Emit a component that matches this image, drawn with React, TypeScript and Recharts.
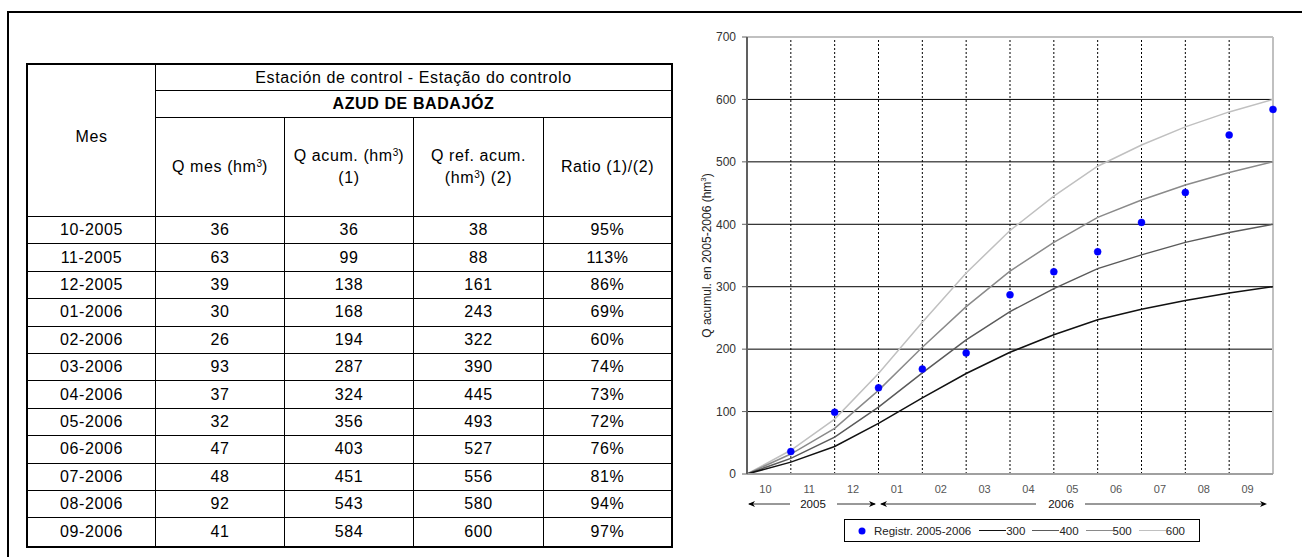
import React from 'react';
import { ComposedChart, Line, XAxis, YAxis, CartesianGrid, ReferenceLine, Legend } from 'recharts';

// ---- Table data ----
const months = ['10-2005', '11-2005', '12-2005', '01-2006', '02-2006', '03-2006', '04-2006', '05-2006', '06-2006', '07-2006', '08-2006', '09-2006'];
const qMes = [36, 63, 39, 30, 26, 93, 37, 32, 47, 48, 92, 41];
const qAcum = [36, 99, 138, 168, 194, 287, 324, 356, 403, 451, 543, 584];
const qRef = [38, 88, 161, 243, 322, 390, 445, 493, 527, 556, 580, 600];
const ratio = ['95%', '113%', '86%', '69%', '60%', '74%', '73%', '72%', '76%', '81%', '94%', '97%'];

// ---- Chart data ----
const monthTicks = ['10', '11', '12', '01', '02', '03', '04', '05', '06', '07', '08', '09'];
const monthIdx = [0, 1, 2, 3, 4, 5, 6, 7, 8, 9, 10, 11, 12];
const ref300 = [0, 19, 44, 81, 122, 161, 195, 223, 247, 264, 278, 290, 300];
const ref400 = [0, 25, 59, 107, 162, 215, 260, 297, 329, 351, 371, 387, 400];
const ref500 = [0, 32, 73, 134, 203, 268, 325, 371, 411, 439, 463, 483, 500];
const ref600 = [0, 38, 88, 161, 243, 322, 390, 445, 493, 527, 556, 580, 600];
const yTicks = [0, 100, 200, 300, 400, 500, 600, 700];

const chartData = monthIdx.map((m, i) => ({
  m,
  r300: ref300[i],
  r400: ref400[i],
  r500: ref500[i],
  r600: ref600[i],
  reg: i === 0 ? null : qAcum[i - 1],
}));

const tickPos = monthTicks.map((_, i) => i + 0.5);
const boundaries = monthIdx.slice(1, 12);

const FONT = "'Liberation Sans', Arial, Helvetica, sans-serif";

const lineColors = { r300: '#111111', r400: '#5a5a5a', r500: '#8a8a8a', r600: '#c0c0c0' };

function LegendBox() {
  const items: [string, string][] = [
    ['300', lineColors.r300],
    ['400', lineColors.r400],
    ['500', lineColors.r500],
    ['600', lineColors.r600],
  ];
  return (
    <div
      style={{
        boxSizing: 'border-box',
        border: '1px solid #000',
        height: 23,
        width: 356,
        display: 'flex',
        alignItems: 'center',
        fontFamily: FONT,
        fontSize: 11.5,
        color: '#222',
        background: '#fff',
        whiteSpace: 'nowrap',
      }}
    >
      <svg width={8} height={8} style={{ marginLeft: 13, marginRight: 8 }}>
        <circle cx={4} cy={4} r={3.5} fill="#0000ff" />
      </svg>
      <span>Registr. 2005-2006</span>
      {items.map(([label, color], i) => (
        <span key={label} style={{ display: 'flex', alignItems: 'center', marginLeft: i === 0 ? 8 : 7 }}>
          <span style={{ display: 'inline-block', width: 27, height: 0, borderTop: `1.5px solid ${color}` }} />
          <span>{label}</span>
        </span>
      ))}
    </div>
  );
}

function YLabel(props: any) {
  const vb = props.viewBox || { x: 0, y: 0, width: 0, height: 0 };
  const cx = vb.x + 17;
  const cy = vb.y + vb.height / 2;
  return (
    <text
      x={cx}
      y={cy}
      transform={`rotate(-90, ${cx}, ${cy})`}
      textAnchor="middle"
      dominantBaseline="central"
      fontFamily={FONT}
      fontSize={12}
      fill="#222"
    >
      Q acumul. en 2005-2006 (hm
      <tspan dy={-4} fontSize={8}>3</tspan>
      <tspan dy={4}>)</tspan>
    </text>
  );
}

function YearArrows() {
  const y = 504;
  const col = '#333';
  const head = (x: number, dir: number) => (
    <path d={`M${x},${y} L${x - dir * 7},${y - 3} L${x - dir * 5},${y} L${x - dir * 7},${y + 3} Z`} fill="#000" />
  );
  return (
    <svg
      width={1302}
      height={557}
      style={{ position: 'absolute', left: 0, top: 0, pointerEvents: 'none' }}
    >
      <line x1={749} y1={y} x2={790} y2={y} stroke={col} strokeWidth={1} />
      {head(748, -1)}
      <text x={813} y={y} textAnchor="middle" dominantBaseline="central" fontFamily={FONT} fontSize={11.5} fill="#111">2005</text>
      <line x1={837} y1={y} x2={875} y2={y} stroke={col} strokeWidth={1} />
      {head(876, 1)}
      <line x1={881} y1={y} x2={1036} y2={y} stroke={col} strokeWidth={1} />
      {head(880, -1)}
      <text x={1061} y={y} textAnchor="middle" dominantBaseline="central" fontFamily={FONT} fontSize={11.5} fill="#111">2006</text>
      <line x1={1085} y1={y} x2={1265} y2={y} stroke={col} strokeWidth={1} />
      {head(1267, 1)}
    </svg>
  );
}

function DataTable() {
  const colW = [128, 129, 129, 130, 127];
  const nRows = months.length;
  const cell = (
    col: number,
    row: number,
    content: React.ReactNode,
    opts: { colSpan?: number; rowSpan?: number; bold?: boolean } = {}
  ) => {
    const colSpan = opts.colSpan || 1;
    const rowSpan = opts.rowSpan || 1;
    const lastCol = col + colSpan - 1 === 5;
    const lastRow = row + rowSpan - 1 === 3 + nRows;
    return (
      <div
        key={`${col}-${row}`}
        style={{
          gridColumn: `${col} / span ${colSpan}`,
          gridRow: `${row} / span ${rowSpan}`,
          boxSizing: 'border-box',
          borderRight: lastCol ? 'none' : '1px solid #000',
          borderBottom: lastRow ? 'none' : '1px solid #000',
          display: 'flex',
          alignItems: 'center',
          justifyContent: 'center',
          textAlign: 'center',
          fontWeight: opts.bold ? 'bold' : 'normal',
          lineHeight: '22px',
        }}
      >
        {content}
      </div>
    );
  };
  const sup = <sup style={{ fontSize: 10, lineHeight: 0, verticalAlign: 5, letterSpacing: 0 }}>3</sup>;
  const cells: React.ReactNode[] = [];
  cells.push(cell(1, 1, <span style={{ marginTop: -8 }}>Mes</span>, { rowSpan: 3 }));
  cells.push(cell(2, 1, 'Estación de control - Estação do controlo', { colSpan: 4 }));
  cells.push(cell(2, 2, 'AZUD DE BADAJÓZ', { colSpan: 4, bold: true }));
  cells.push(cell(2, 3, <span>Q mes (hm{sup})</span>));
  cells.push(cell(3, 3, <span>Q acum. (hm{sup})<br />(1)</span>));
  cells.push(cell(4, 3, <span>Q ref. acum.<br />(hm{sup}) (2)</span>));
  cells.push(cell(5, 3, <span>Ratio (1)/(2)</span>));
  months.forEach((mo, i) => {
    const r = 4 + i;
    cells.push(cell(1, r, mo));
    cells.push(cell(2, r, qMes[i]));
    cells.push(cell(3, r, qAcum[i]));
    cells.push(cell(4, r, qRef[i]));
    cells.push(cell(5, r, ratio[i]));
  });
  return (
    <div
      style={{
        position: 'absolute',
        left: 26,
        top: 63,
        border: '2px solid #000',
        display: 'grid',
        gridTemplateColumns: colW.map((w) => `${w}px`).join(' '),
        gridTemplateRows: `26px 27px 99px repeat(${nRows}, 27.4px)`,
        fontFamily: FONT,
        fontSize: 16,
        letterSpacing: 0.6,
        color: '#000',
        background: '#fff',
      }}
    >
      {cells}
    </div>
  );
}

export default function App() {
  return (
    <div
      style={{
        position: 'absolute',
        left: 0,
        top: 0,
        width: 1302,
        height: 557,
        overflow: 'hidden',
        background: '#fff',
      }}
    >
      <div
        style={{
          position: 'absolute',
          left: 7,
          top: 11,
          width: 1400,
          height: 700,
          border: '2px solid #000',
        }}
      />
      <DataTable />
      <div style={{ position: 'absolute', left: 690, top: 20 }}>
        <ComposedChart
          width={612}
          height={537}
          data={chartData}
          margin={{ top: 17, right: 29, bottom: 30, left: 0 }}
        >
          <CartesianGrid vertical={false} stroke="#000" strokeWidth={1} />
          {boundaries.map((b) => (
            <ReferenceLine key={b} x={b} stroke="#000" strokeDasharray="2 2" strokeWidth={1} />
          ))}
          <ReferenceLine y={700} stroke="#c0c0c0" strokeWidth={2} />
          <ReferenceLine x={12} stroke="#c0c0c0" strokeWidth={2} />
          <XAxis
            dataKey="m"
            type="number"
            domain={[0, 12]}
            ticks={tickPos}
            interval={0}
            tickFormatter={(v: number) => monthTicks[Math.floor(v)]}
            tickLine={false}
            axisLine={{ stroke: '#a0a0a0', strokeWidth: 2 }}
            tick={{ fill: '#555', fontSize: 11, fontFamily: FONT, dx: -3.5 }}
            tickMargin={5}
            height={30}
          />
          <YAxis
            type="number"
            domain={[0, 700]}
            ticks={yTicks}
            interval={0}
            width={57}
            tickSize={5}
            tickMargin={6}
            axisLine={{ stroke: '#606060', strokeWidth: 2 }}
            tickLine={{ stroke: '#606060' }}
            tick={{ fill: '#333', fontSize: 12, fontFamily: FONT }}
            label={{ content: (p: any) => <YLabel {...p} /> }}
          />
          <Line type="linear" dataKey="r600" stroke={lineColors.r600} strokeWidth={1.5} dot={false} activeDot={false} isAnimationActive={false} />
          <Line type="linear" dataKey="r500" stroke={lineColors.r500} strokeWidth={1.5} dot={false} activeDot={false} isAnimationActive={false} />
          <Line type="linear" dataKey="r400" stroke={lineColors.r400} strokeWidth={1.5} dot={false} activeDot={false} isAnimationActive={false} />
          <Line type="linear" dataKey="r300" stroke={lineColors.r300} strokeWidth={1.5} dot={false} activeDot={false} isAnimationActive={false} />
          <Line
            type="linear"
            dataKey="reg"
            stroke="none"
            dot={{ r: 3.5, fill: '#0000ff', stroke: '#0000ff', strokeWidth: 0.5 }}
            activeDot={false}
            isAnimationActive={false}
          />
          <Legend
            verticalAlign="bottom"
            content={() => <LegendBox />}
            wrapperStyle={{ left: 154, top: 499, bottom: 'auto', width: 356, height: 23 }}
          />
        </ComposedChart>
      </div>
      <YearArrows />
    </div>
  );
}
